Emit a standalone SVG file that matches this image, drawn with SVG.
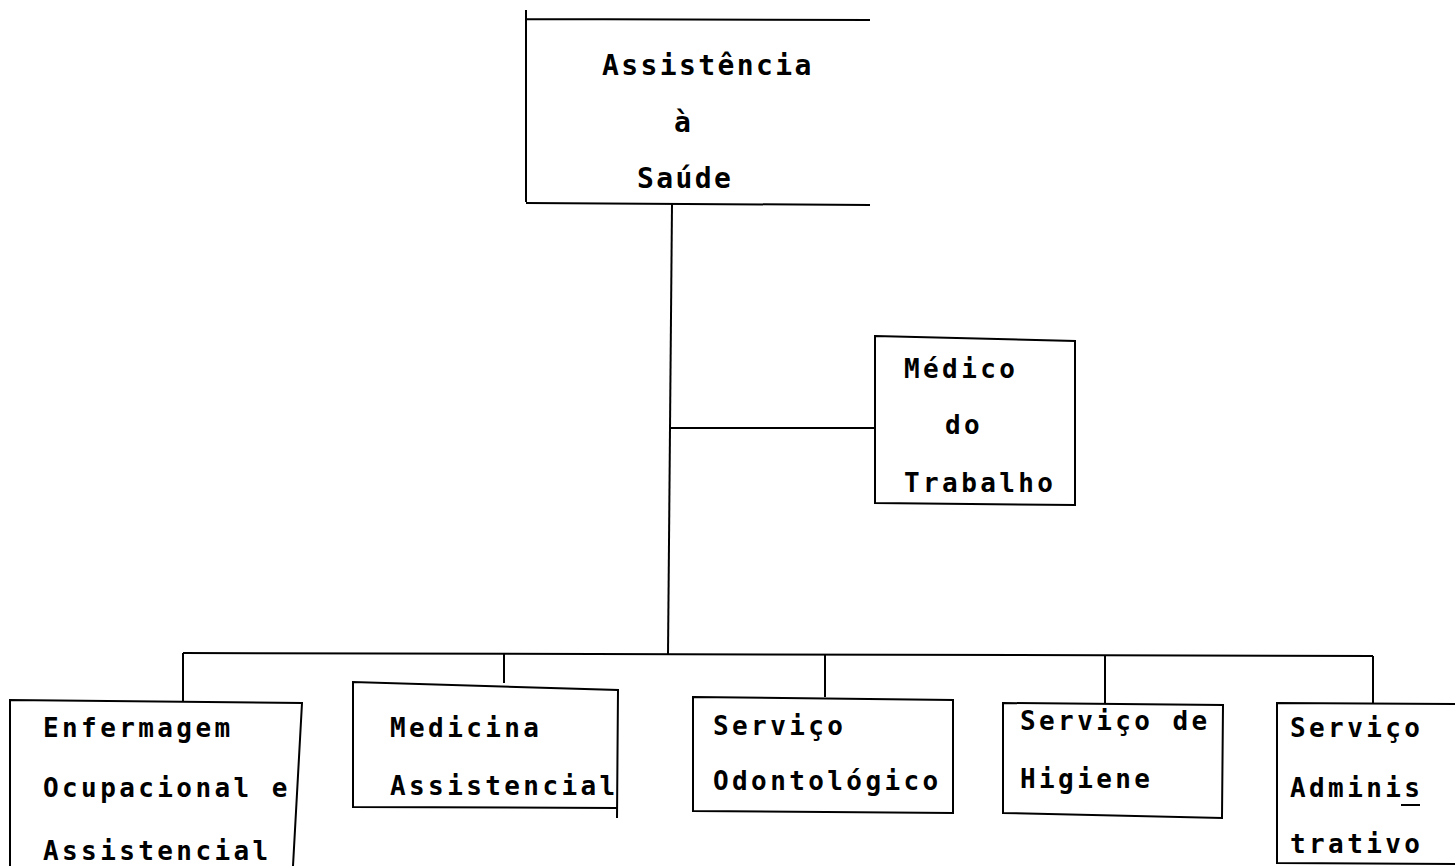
<svg xmlns="http://www.w3.org/2000/svg" width="1455" height="866" viewBox="0 0 1455 866">
<style>
.box{fill:none;stroke:#000;stroke-width:2}
.ln{fill:none;stroke:#000;stroke-width:2}
text{font-family:"DejaVu Sans Mono","Liberation Mono",monospace;font-size:26px;font-weight:bold;letter-spacing:3.4px;fill:#000}
.big{font-size:28px;letter-spacing:2.4px}
</style>
<rect width="1455" height="866" fill="#fff"/>
<g id="connectors">
<path class="ln" d="M672 204 L668 655"/>
<path class="ln" d="M670 428 L875 428"/>
<path class="ln" d="M183 653 L1373 656"/>
<path class="ln" d="M183 653 L183 701"/>
<path class="ln" d="M504 653 L504 683"/>
<path class="ln" d="M825 654 L825 697"/>
<path class="ln" d="M1105 655 L1105 703"/>
<path class="ln" d="M1373 656 L1373 703"/>
</g>
<g id="n-assistencia">
<path class="box" d="M526 10 L526 202 M526 19 L870 20 M526 203 L870 205"/>
<text class="big" x="602" y="75">Assistência</text>
<text class="big" x="674" y="132">à</text>
<text class="big" x="637" y="188">Saúde</text>
</g>
<g id="n-medico">
<path class="box" d="M875 336 L1075 341 L1075 505 L875 503 Z"/>
<text x="904" y="378">Médico</text>
<text x="945" y="434">do</text>
<text x="904" y="492">Trabalho</text>
</g>
<g id="n-enfermagem">
<path class="box" d="M10 866 L10 700 L302 703 L293 866"/>
<text x="43" y="737">Enfermagem</text>
<text x="43" y="797">Ocupacional e</text>
<text x="43" y="860">Assistencial</text>
</g>
<g id="n-medicina">
<path class="box" d="M353 808 L353 682 L618 690 L617 818 M617 808 L353 807"/>
<text x="390" y="737">Medicina</text>
<text x="390" y="795">Assistencial</text>
</g>
<g id="n-odonto">
<path class="box" d="M693 697 L953 700 L953 813 L693 811 Z"/>
<text x="713" y="735">Serviço</text>
<text x="713" y="790">Odontológico</text>
</g>
<g id="n-higiene">
<path class="box" d="M1003 703 L1223 705 L1222 818 L1003 813 Z"/>
<text x="1020" y="730">Serviço de</text>
<text x="1020" y="788">Higiene</text>
</g>
<g id="n-admin">
<path class="box" d="M1455 704 L1277 703 L1277 863 L1455 864"/>
<text x="1290" y="737">Serviço</text>
<text x="1290" y="797">Adminis</text>
<path class="ln" d="M1401 805 L1420 805"/>
<text x="1290" y="853">trativo</text>
</g>
</svg>
